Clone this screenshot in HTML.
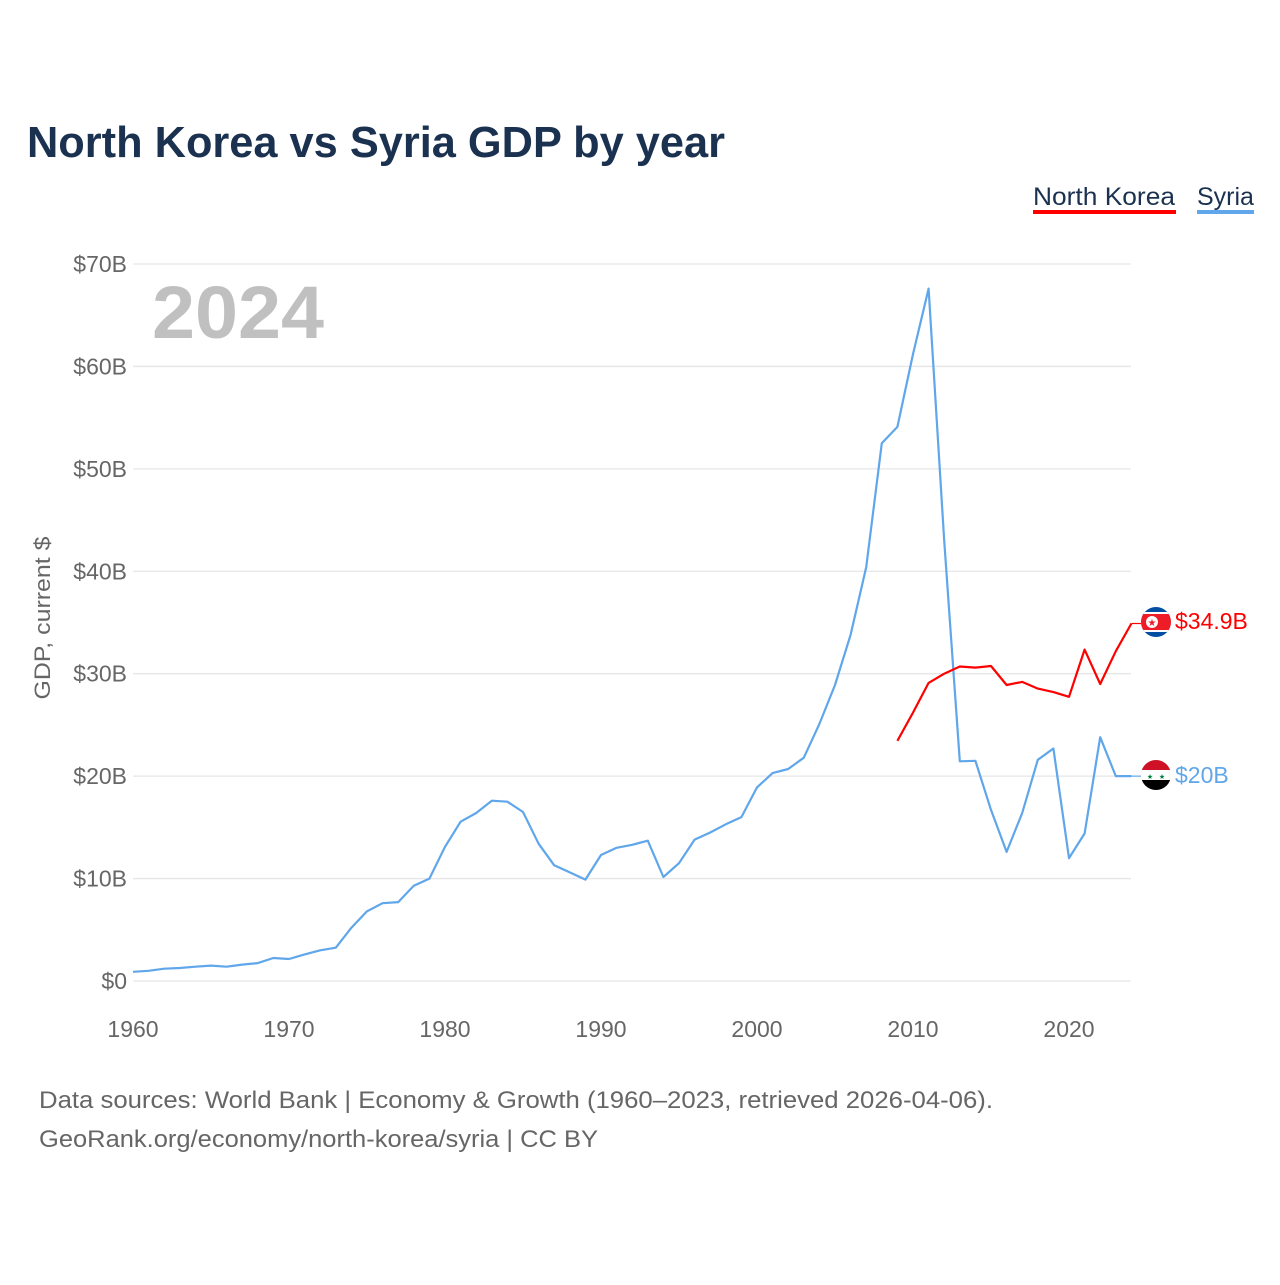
<!DOCTYPE html>
<html><head><meta charset="utf-8"><style>
html,body{margin:0;padding:0;background:#fff;}
body{width:1280px;height:1280px;overflow:hidden;font-family:"Liberation Sans",sans-serif;}
</style></head><body>
<svg id="chart" width="1280" height="1280" xmlns="http://www.w3.org/2000/svg" font-family="Liberation Sans, sans-serif">
<text x="27" y="157" font-size="44" font-weight="bold" fill="#1b3150" textLength="698" lengthAdjust="spacingAndGlyphs">North Korea vs Syria GDP by year</text>
<g>
<text x="1033" y="205" font-size="25" fill="#1b3150" textLength="142" lengthAdjust="spacingAndGlyphs">North Korea</text>
<rect x="1033" y="210" width="143" height="4" fill="#ff0000"/>
<text x="1197" y="205" font-size="25" fill="#1b3150">Syria</text>
<rect x="1197" y="210" width="57" height="4" fill="#5fa6ea"/>
</g>
<text x="152" y="338" font-size="74" font-weight="bold" fill="#c0c0c0" textLength="172" lengthAdjust="spacingAndGlyphs">2024</text>
<text transform="translate(50,618) rotate(-90)" text-anchor="middle" font-size="22" fill="#666" textLength="163" lengthAdjust="spacingAndGlyphs">GDP, current $</text>
<g id="grid"></g><g id="yticks"></g><g id="xticks"></g><g id="series"></g>
<g>
<clipPath id="c1"><circle cx="1156" cy="622" r="15"/></clipPath>
<g clip-path="url(#c1)"><rect x="1140" y="606" width="32" height="32" fill="#024fa2"/><rect x="1140" y="612" width="32" height="20" fill="#fff"/><rect x="1140" y="614" width="32" height="16" fill="#ed1c27"/><circle cx="1152" cy="622" r="6" fill="#fff"/><text x="1152" y="626" font-size="10" text-anchor="middle" fill="#ed1c27">★</text></g>
</g>
<g>
<clipPath id="c2"><circle cx="1156" cy="775" r="15"/></clipPath>
<g clip-path="url(#c2)"><rect x="1140" y="759" width="32" height="11" fill="#ce1126"/><rect x="1140" y="770" width="32" height="10" fill="#fff"/><rect x="1140" y="780" width="32" height="12" fill="#000"/><text x="1150" y="779" font-size="7" text-anchor="middle" fill="#007a3d">★</text><text x="1162" y="779" font-size="7" text-anchor="middle" fill="#007a3d">★</text></g>
</g>
<text x="1175" y="629" font-size="23" fill="#ff0000">$34.9B</text>
<text x="1175" y="783" font-size="23" fill="#5fa6ea">$20B</text>
<text x="39" y="1108" font-size="24" fill="#666" textLength="954" lengthAdjust="spacingAndGlyphs">Data sources: World Bank | Economy &amp; Growth (1960–2023, retrieved 2026-04-06).</text>
<text x="39" y="1147" font-size="24" fill="#666" textLength="559" lengthAdjust="spacingAndGlyphs">GeoRank.org/economy/north-korea/syria | CC BY</text>
</svg>
<script>
const yTickValues=[0,10,20,30,40,50,60,70];
const yTickLabels=["$0","$10B","$20B","$30B","$40B","$50B","$60B","$70B"];
const xTickYears=[1960,1970,1980,1990,2000,2010,2020];
const syriaYears=[1960,1961,1962,1963,1964,1965,1966,1967,1968,1969,1970,1971,1972,1973,1974,1975,1976,1977,1978,1979,1980,1981,1982,1983,1984,1985,1986,1987,1988,1989,1990,1991,1992,1993,1994,1995,1996,1997,1998,1999,2000,2001,2002,2003,2004,2005,2006,2007,2008,2009,2010,2011,2012,2013,2014,2015,2016,2017,2018,2019,2020,2021,2022,2023,2024];
const syriaGdp=[0.9,1.0,1.2,1.27,1.4,1.5,1.4,1.6,1.75,2.25,2.15,2.6,3.0,3.25,5.2,6.8,7.6,7.7,9.3,10.0,13.1,15.55,16.4,17.6,17.5,16.5,13.4,11.3,10.6,9.9,12.3,13.0,13.3,13.7,10.15,11.5,13.8,14.5,15.3,16.0,18.9,20.3,20.7,21.8,25.1,28.9,33.8,40.4,52.5,54.1,61.2,67.6,43,21.45,21.5,16.7,12.6,16.4,21.6,22.7,12.0,14.4,23.8,20.0,20.0];
const nkYears=[2009,2010,2011,2012,2013,2014,2015,2016,2017,2018,2019,2020,2021,2022,2023,2024];
const nkGdp=[23.45,26.2,29.1,30.0,30.7,30.6,30.75,28.9,29.2,28.55,28.2,27.75,32.35,29.0,32.2,34.9];
const NS="http://www.w3.org/2000/svg";
function xs(yr){return 133+(yr-1960)*15.6;}
function ys(v){return 981-v*10.243;}
function mk(tag,attrs,parent){const e=document.createElementNS(NS,tag);for(const k in attrs)e.setAttribute(k,attrs[k]);parent.appendChild(e);return e;}
const grid=document.getElementById('grid'),yt=document.getElementById('yticks'),xt=document.getElementById('xticks'),se=document.getElementById('series');
yTickValues.forEach((v,i)=>{
 const l=mk('line',{x1:133,x2:1131,y1:ys(v),y2:ys(v),stroke:'#e6e6e6','stroke-width':1.3},grid);
 
 
 const t=mk('text',{x:127,y:ys(v)+8,'text-anchor':'end','font-size':23,fill:'#666'},yt);
 t.textContent=yTickLabels[i];
 
 
});
xTickYears.forEach(y=>{
 const t=mk('text',{x:xs(y),y:1037,'text-anchor':'middle','font-size':23,fill:'#666'},xt);
 t.textContent=y;
 
 
});
function line(years,vals,color,name){
 const d=years.map((y,i)=>(i?'L':'M')+xs(y).toFixed(1)+' '+ys(vals[i]).toFixed(1)).join(' ');
 const p=mk('path',{d:d,fill:'none',stroke:color,'stroke-width':2.2,'stroke-linejoin':'round'},se);
 
 
 const last=years.length-1;
 const c=mk('line',{x1:xs(years[last]),x2:1141,y1:ys(vals[last]),y2:ys(vals[last]),stroke:color,'stroke-width':1.2},se);
 
 
}
line(syriaYears,syriaGdp,'#5fa6ea','syria-line');
line(nkYears,nkGdp,'#ff0000','north-korea-line');
</script>
</body></html>
